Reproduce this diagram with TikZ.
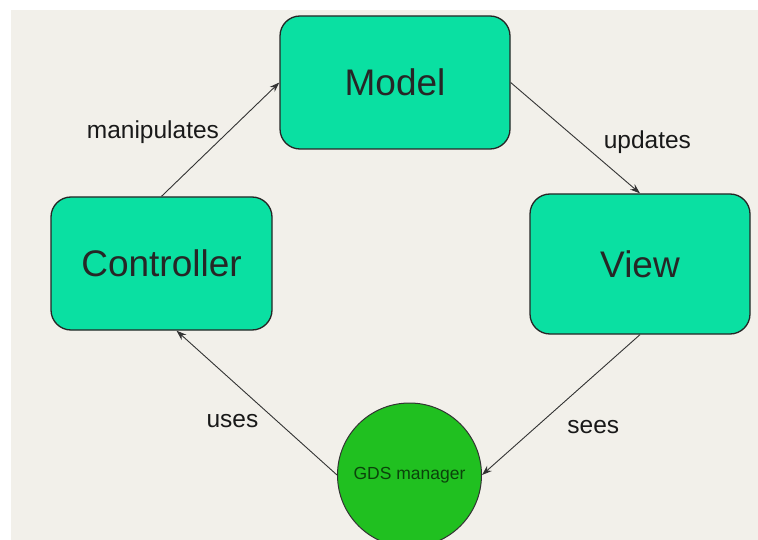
\documentclass[tikz,border=0pt]{standalone}
\usepackage{fontspec}
\setmainfont{Liberation Sans}
\usetikzlibrary{arrows.meta,positioning}
\definecolor{BoxTeal}{RGB}{10,224,162}
\definecolor{GdsGreen}{RGB}{32,192,32}
\definecolor{PaperBeige}{RGB}{242,240,234}

\begin{document}
\begin{tikzpicture}[x=1pt,y=-1pt,
  box/.style={draw=black!85,line width=1.3pt,fill=BoxTeal,rounded corners=20pt,
              minimum width=230pt,minimum height=133pt,text=black!85,
              font=\fontsize{37}{40}\selectfont},
  arr/.style={-{Stealth[length=10pt,width=7pt]},line width=0.9pt,black!80},
  lbl/.style={font=\fontsize{24.5}{27}\selectfont,inner sep=0pt,text=black!90},
]
\clip (0,0) rectangle (758,540);
% paper
\fill[white] (0,0) rectangle (758,540);
\fill[PaperBeige] (11,10) rectangle (758,540);
% the three MVC parts
\node[box] (model) at (395,82.5) {Model};
\node[box,minimum width=221pt] (ctrl) at (161.5,263.5) {Controller};
\node[box,minimum width=220pt,minimum height=140pt] (view) at (640,264) {View};
% manager
\node[circle,draw=black!80,line width=1pt,fill=GdsGreen,minimum size=144pt,
      inner sep=0pt,font=\fontsize{17.5}{19}\selectfont,text=GdsGreen!35!black]
  (gds) at (409.5,475) {GDS manager};
% connectors
\draw[arr] (ctrl.north) -- (model.west)
  node[lbl,midway,anchor=east,xshift=-1pt,yshift=7pt] {manipulates};
\draw[arr] (model.east) -- (view.north)
  node[lbl,midway,anchor=west,xshift=28pt,yshift=-4pt] {updates};
\draw[arr] (view.south) -- (gds.east)
  node[lbl,midway,anchor=north west,xshift=6pt,yshift=-15pt] {sees};
\draw[arr] (gds.west) -- ([xshift=15pt]ctrl.south)
  node[lbl,midway,anchor=north east,xshift=2pt,yshift=-11pt] {uses};
\end{tikzpicture}
\end{document}
